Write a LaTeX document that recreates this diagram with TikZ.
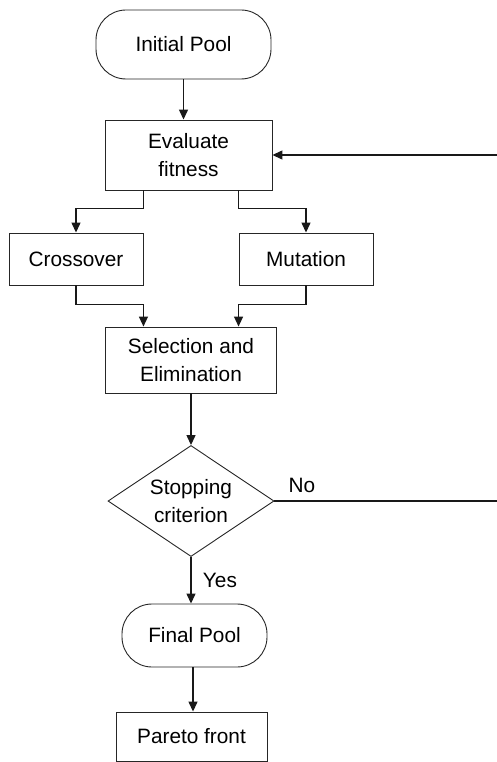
\documentclass[tikz,border=0pt]{standalone}
\usepackage{fontspec}
\setmainfont{Liberation Sans}
\usetikzlibrary{shapes.geometric,arrows.meta}
\begin{document}
\begin{tikzpicture}[x=1pt,y=-1pt,
    font=\fontsize{20.8}{28.5}\selectfont,
    box/.style={draw=black!85,line width=0.9pt,rectangle,inner sep=0pt,align=center},
    term/.style={box,rounded corners=30pt},
    decide/.style={draw=black!85,line width=0.9pt,diamond,aspect=1.5,inner sep=0pt,align=center},
    arrow/.style={draw=black!90,line width=1.3pt,-{Triangle[length=10pt,width=9pt]}},
    link/.style={draw=black!90,line width=1.3pt}]
    \useasboundingbox (0,0) rectangle (496,762);
    \coordinate (pInit) at (183.5,44.5);
    \coordinate (pEval) at (188.5,155);
    \coordinate (pCross) at (76,259);
    \coordinate (pMut) at (306,259);
    \coordinate (pSel) at (191,360);
    \coordinate (pStop) at (191,501);
    \coordinate (pFinal) at (194.5,635.5);
    \coordinate (pPareto) at (191.5,736.5);
    % the loop back runs just past the right edge
    \coordinate (loop) at (503,501);
    \node[term,minimum width=175pt,minimum height=69pt] (init) at (pInit) {Initial Pool};
    \node[box,minimum width=167pt,minimum height=70pt] (eval) at (pEval) {Evaluate\\fitness};
    \node[box,minimum width=134pt,minimum height=52pt] (cross) at (pCross) {Crossover};
    \node[box,minimum width=134pt,minimum height=52pt] (mut) at (pMut) {Mutation};
    \node[box,minimum width=171pt,minimum height=66pt] (sel) at (pSel) {Selection and\\Elimination};
    \node[decide,minimum width=166pt,minimum height=111pt] (stop) at (pStop) {Stopping\\criterion};
    \node[term,minimum width=145pt,minimum height=63pt] (final) at (pFinal) {Final Pool};
    \node[box,minimum width=151pt,minimum height=49pt] (pareto) at (pPareto) {Pareto front};
    \draw[arrow] (init.south) -- (init.south |- eval.north);
    \draw[arrow] (eval.south -| cross.east) -- ++(0,18) -| (cross.north);
    \draw[arrow] (eval.south -| mut.west) -- ++(0,18) -| (mut.north);
    \draw[arrow] (cross.south) -- ++(0,19) -| (sel.north -| cross.east);
    \draw[arrow] (mut.south) -- ++(0,19) -| (sel.north -| mut.west);
    \draw[arrow] (sel.south) -- (stop.north);
    \draw[arrow] (stop.south) -- node[right=8pt,pos=0.5] (yes) {Yes} (stop.south |- final.north);
    \draw[arrow] (final.south -| 193,0) -- (pareto.north -| 193,0);
    \draw[arrow] (stop.east) -- node[above=4pt,pos=0.12] (no) {No} (loop) |- (eval.east);
\end{tikzpicture}
\end{document}
